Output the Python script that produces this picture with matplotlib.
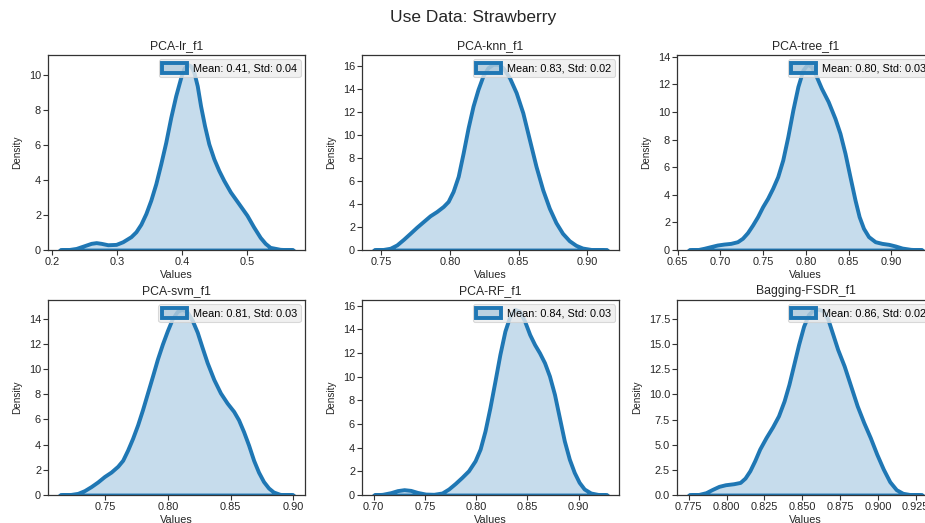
import matplotlib
matplotlib.use("Agg")
import matplotlib.pyplot as plt
from matplotlib.ticker import MultipleLocator

plt.rcParams['font.family'] = ['Liberation Sans', 'DejaVu Sans']

# densidades (x, densidad) para cada modelo
titulos = ["PCA-lr_f1", "PCA-knn_f1", "PCA-tree_f1",
           "PCA-svm_f1", "PCA-RF_f1", "Bagging-FSDR_f1"]
medias = [0.41, 0.83, 0.80, 0.81, 0.84, 0.86]
desvs = [0.04, 0.02, 0.03, 0.03, 0.03, 0.02]
pasos_y = [2, 2, 2, 2, 2, 2.5]

lr_x = [0.2117, 0.2245, 0.2372, 0.25, 0.2602, 0.2679, 0.2755, 0.2857, 0.2985, 0.3087,
        0.3214, 0.3291, 0.3367, 0.3444, 0.352, 0.3597, 0.3673, 0.375, 0.3827, 0.3903,
        0.398, 0.4031, 0.4082, 0.4133, 0.4184, 0.4235, 0.4286, 0.4347, 0.4413, 0.449,
        0.4566, 0.4643, 0.4745, 0.4872, 0.5, 0.5102, 0.5204, 0.5281, 0.5357, 0.551, 0.5714]
lr_y = [0.0, 0.02, 0.09, 0.25, 0.38, 0.42, 0.38, 0.30, 0.32, 0.47,
        0.76, 1.04, 1.47, 2.08, 2.84, 3.78, 4.91, 6.14, 7.56, 8.79,
        9.83, 10.36, 10.59, 10.5, 10.12, 9.36, 8.22, 7.09, 6.05, 5.2,
        4.54, 3.97, 3.31, 2.65, 1.98, 1.32, 0.72, 0.38, 0.15, 0.04, 0.0]

knn_x = [0.7445, 0.7505, 0.7565, 0.7613, 0.7662, 0.771, 0.7758, 0.7806, 0.7855, 0.7903,
         0.7951, 0.7987, 0.8023, 0.806, 0.8096, 0.8132, 0.8168, 0.8204, 0.824, 0.8277,
         0.8313, 0.8349, 0.8385, 0.8433, 0.8482, 0.853, 0.8578, 0.8626, 0.8675, 0.8723,
         0.8771, 0.8819, 0.8868, 0.8916, 0.8964, 0.9036, 0.9145]
knn_y = [0.0, 0.03, 0.15, 0.44, 0.93, 1.45, 1.98, 2.47, 2.97, 3.34,
         3.78, 4.22, 5.09, 6.4, 8.43, 10.61, 12.5, 13.95, 15.12, 15.84,
         16.13, 16.13, 15.84, 14.97, 13.66, 11.92, 9.59, 7.27, 5.23, 3.63,
         2.38, 1.45, 0.81, 0.41, 0.17, 0.03, 0.0]

tree_x = [0.663, 0.6728, 0.6807, 0.6885, 0.6964, 0.7042, 0.7121, 0.72, 0.7259, 0.7318,
          0.7377, 0.7436, 0.7495, 0.7553, 0.7612, 0.7671, 0.773, 0.7789, 0.7848, 0.7907,
          0.7966, 0.8017, 0.8064, 0.8123, 0.8182, 0.8261, 0.834, 0.8399, 0.8458, 0.8516,
          0.8575, 0.8623, 0.8674, 0.8733, 0.8811, 0.889, 0.8969, 0.9047, 0.9126, 0.9224,
          0.9362]
tree_y = [0.0, 0.02, 0.12, 0.24, 0.36, 0.43, 0.48, 0.6, 0.85, 1.26,
          1.81, 2.42, 3.14, 3.74, 4.47, 5.31, 6.52, 8.21, 10.14, 11.84,
          13.04, 13.45, 13.29, 12.56, 11.71, 10.75, 9.54, 8.45, 7.0, 5.31,
          3.62, 2.42, 1.57, 0.97, 0.6, 0.48, 0.41, 0.29, 0.14, 0.05,
          0.0]

svm_x = [0.7135, 0.7214, 0.728, 0.7333, 0.7386, 0.7439, 0.7492, 0.7545, 0.7598, 0.7638,
         0.7677, 0.7717, 0.7757, 0.7796, 0.7836, 0.7876, 0.7915, 0.7955, 0.7995, 0.8034,
         0.8074, 0.8114, 0.8153, 0.8193, 0.8233, 0.8272, 0.8312, 0.8365, 0.8418, 0.8471,
         0.8524, 0.8563, 0.8603, 0.8643, 0.8683, 0.8722, 0.8762, 0.8802, 0.8841, 0.8894,
         0.900]
svm_y = [0.0, 0.03, 0.13, 0.35, 0.67, 1.04, 1.47, 1.82, 2.28, 2.76,
         3.56, 4.5, 5.57, 6.77, 8.11, 9.45, 10.79, 11.99, 13.06, 14.0,
         14.59, 14.75, 14.53, 13.87, 12.93, 11.72, 10.52, 9.18, 8.11, 7.31,
         6.64, 5.97, 5.03, 3.96, 2.76, 1.82, 1.07, 0.56, 0.24, 0.05,
         0.0]

rf_x = [0.7, 0.7087, 0.7168, 0.7232, 0.7297, 0.7361, 0.7426, 0.7506, 0.7587, 0.7668,
        0.7732, 0.7797, 0.7861, 0.7926, 0.799, 0.8039, 0.8087, 0.8135, 0.8184, 0.8232,
        0.8281, 0.8329, 0.8377, 0.8426, 0.8474, 0.8523, 0.8571, 0.8619, 0.8668, 0.8716,
        0.8765, 0.8813, 0.8861, 0.891, 0.8958, 0.9006, 0.9055, 0.9119, 0.92, 0.9281]
rf_y = [0.0, 0.06, 0.2, 0.37, 0.45, 0.39, 0.22, 0.08, 0.06, 0.17,
        0.51, 0.98, 1.49, 2.05, 2.89, 3.88, 5.42, 7.39, 9.63, 11.88,
        13.85, 15.11, 15.7, 15.53, 14.69, 13.57, 12.72, 12.02, 11.18, 10.06,
        8.51, 6.54, 4.58, 3.03, 1.91, 1.07, 0.51, 0.17, 0.03, 0.0]

bag_x = [0.775, 0.781, 0.7864, 0.7907, 0.795, 0.7993, 0.8047, 0.809, 0.8122, 0.8154,
         0.8186, 0.8219, 0.8261, 0.8304, 0.8343, 0.838, 0.8412, 0.8444, 0.8476, 0.8509,
         0.8541, 0.8573, 0.8605, 0.8638, 0.867, 0.8702, 0.8734, 0.8777, 0.882, 0.8863,
         0.8906, 0.8949, 0.8992, 0.9035, 0.9078, 0.9121, 0.9164, 0.9218, 0.9293]
bag_y = [0.0, 0.03, 0.23, 0.56, 0.86, 1.02, 1.12, 1.25, 1.68, 2.41,
         3.4, 4.56, 5.71, 6.77, 7.86, 9.34, 10.99, 12.97, 14.96, 16.77,
         17.93, 18.42, 18.45, 18.32, 17.43, 15.95, 14.46, 12.81, 10.83, 8.85,
         7.2, 5.71, 4.06, 2.58, 1.32, 0.53, 0.17, 0.03, 0.0]

datos_x = [lr_x, knn_x, tree_x, svm_x, rf_x, bag_x]
datos_y = [lr_y, knn_y, tree_y, svm_y, rf_y, bag_y]

W, H = 925, 523
fig = plt.figure(figsize=(W / 100, H / 100), dpi=100)

# posiciones de los ejes en pixeles (izq, arriba) -- la imagen original esta recortada a la derecha
izquierdas = [48, 362, 677]
arribas = [55, 300]
ancho, alto = 257, 195

azul = "#1f77b4"
for i in range(6):
    fila, col = divmod(i, 3)
    l = izquierdas[col]
    t = arribas[fila]
    ax = fig.add_axes([l / W, (H - t - alto) / H, ancho / W, alto / H])
    poly = ax.fill_between(datos_x[i], datos_y[i], facecolor=(0.122, 0.467, 0.706, 0.25),
                           edgecolor=azul, linewidth=2.8, joinstyle="round",
                           label=f"Mean: {medias[i]:.2f}, Std: {desvs[i]:.2f}")
    poly.sticky_edges.y.append(0)
    ax.set_ylim(bottom=0)
    ax.yaxis.set_major_locator(MultipleLocator(pasos_y[i]))
    ax.set_title(titulos[i], fontsize=8.8, color="0.15", pad=4)
    ax.set_xlabel("Values", fontsize=7.8, color="0.15", labelpad=2)
    ax.set_ylabel("Density", fontsize=7.2, color="0.15", labelpad=5,
                  family=["Liberation Sans Narrow", "Liberation Sans"])
    ax.tick_params(labelsize=7.9, length=3.5, width=0.8, pad=1.5,
                   color="0.2", labelcolor="0.15")
    for s in ax.spines.values():
        s.set_color("0.2")
        s.set_linewidth(0.9)
    leg = ax.legend(loc="upper right", fontsize=7.8, facecolor="0.93",
                    edgecolor="0.82", framealpha=0.8, borderpad=0.3,
                    handlelength=2.3, handleheight=1.15,
                    handletextpad=0.6, borderaxespad=0.4)
    leg.get_frame().set_linewidth(0.8)

fig.text(0.511, 0.966, "Use Data: Strawberry", ha="center", va="center",
         fontsize=12.5, color="0.15")

fig.savefig("out.png", dpi=100)
